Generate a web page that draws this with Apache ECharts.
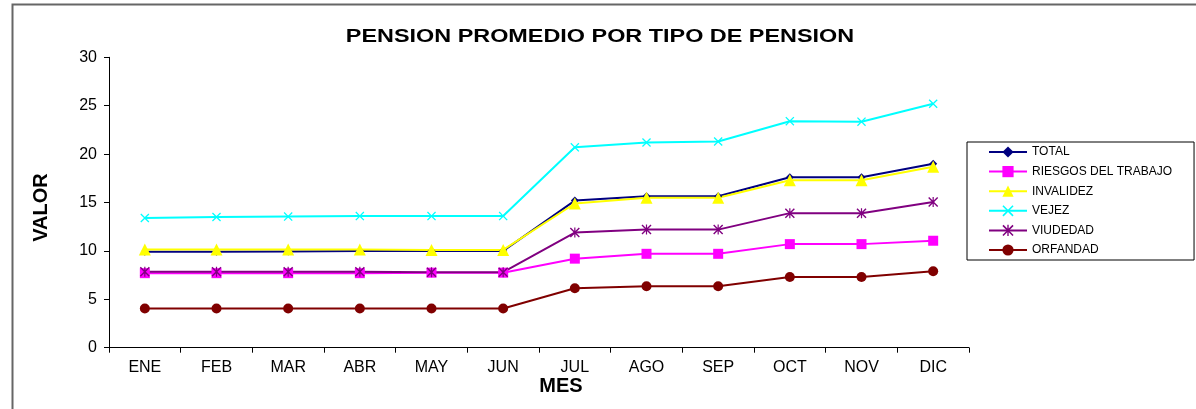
<!DOCTYPE html>
<html lang="es">
<head>
  <meta charset="utf-8">
</head>
<body style="height: 100%; margin: 0">
  <div id="container" style="width: 1196px; height: 409px"></div>
  <script type="text/javascript" src="https://fastly.jsdelivr.net/npm/echarts@6/dist/echarts.min.js"></script>
  <script type="text/javascript">
    const months = ['ENE', 'FEB', 'MAR', 'ABR', 'MAY', 'JUN', 'JUL', 'AGO', 'SEP', 'OCT', 'NOV', 'DIC'];
    const total = [9.9, 9.9, 9.95, 10.0, 10.0, 10.0, 15.2, 15.65, 15.65, 17.6, 17.6, 19.0];
    const riesgos = [7.7, 7.7, 7.7, 7.7, 7.75, 7.75, 9.2, 9.7, 9.7, 10.7, 10.7, 11.05];
    const invalidez = [10.15, 10.15, 10.15, 10.15, 10.1, 10.1, 14.9, 15.5, 15.5, 17.3, 17.3, 18.7];
    const vejez = [13.4, 13.5, 13.55, 13.6, 13.6, 13.6, 20.7, 21.2, 21.3, 23.4, 23.35, 25.2];
    const viudedad = [7.85, 7.85, 7.85, 7.85, 7.8, 7.8, 11.9, 12.2, 12.2, 13.9, 13.9, 15.05];
    const orfandad = [4.05, 4.05, 4.05, 4.05, 4.05, 4.05, 6.15, 6.35, 6.35, 7.3, 7.3, 7.9];
    const yTicks = [0, 30, 5]; // min, max, interval

    var dom = document.getElementById('container');
    var myChart = echarts.init(dom, null, { renderer: 'canvas' });

    const xPath = 'path://M0,1L1,0L5,4L9,0L10,1L6,5L10,9L9,10L5,6L1,10L0,9L4,5Z';
    const starPath = 'path://M0,1L1,0L5,4L9,0L10,1L6,5L10,9L9,10L5,6L1,10L0,9L4,5Z M4.4,0L5.6,0L5.6,10L4.4,10Z';

    function line(name, data, color, symbol, size) {
      return {
        name: name,
        type: 'line',
        data: data,
        symbol: symbol,
        symbolSize: size,
        lineStyle: { color: color, width: 2 },
        itemStyle: { color: color },
        emphasis: { disabled: true }
      };
    }

    var option = {
      animation: false,
      graphic: [{
        type: 'rect',
        shape: { x: 12.5, y: 4.5, width: 1300, height: 500 },
        style: { fill: 'none', stroke: '#666', lineWidth: 2 },
        silent: true
      }, {
        // title, stretched horizontally like the original
        type: 'text',
        x: 600,
        y: 37,
        originX: 0,
        scaleX: 1.3,
        style: {
          text: 'PENSION PROMEDIO POR TIPO DE PENSION',
          x: 0,
          y: 0,
          align: 'center',
          verticalAlign: 'middle',
          font: 'bold 18px "Liberation Sans"',
          fill: '#000'
        },
        silent: true
      }],
      legend: {
        orient: 'vertical',
        left: 967,
        top: 142,
        padding: [4, 22, 4, 21],
        itemWidth: 38,
        itemHeight: 14,
        itemGap: 7.6,
        borderColor: '#000',
        borderWidth: 1,
        textStyle: { fontFamily: 'Liberation Sans', fontSize: 12, color: '#000' }
      },
      grid: { left: 109, right: 227, top: 57.3, bottom: 61.3 },
      xAxis: {
        type: 'category',
        data: months,
        name: 'MES',
        nameLocation: 'middle',
        nameGap: 29,
        nameMoveOverlap: false,
        nameTextStyle: { fontFamily: 'Liberation Sans', fontSize: 20, fontWeight: 'bold', color: '#000', padding: [0, 0, 0, 44] },
        axisLine: { lineStyle: { color: '#000', width: 1 } },
        axisTick: { show: true, length: 5, lineStyle: { color: '#000' } },
        axisLabel: { margin: 12, fontFamily: 'Liberation Sans', fontSize: 16, color: '#000' },
        splitLine: { show: false }
      },
      yAxis: {
        type: 'value',
        min: yTicks[0],
        max: yTicks[1],
        interval: yTicks[2],
        name: 'VALOR',
        nameLocation: 'middle',
        nameGap: 58,
        nameMoveOverlap: false,
        nameTextStyle: { fontFamily: 'Liberation Sans', fontSize: 20, fontWeight: 'bold', color: '#000', padding: [0, 10, 0, 0] },
        axisLine: { show: true, lineStyle: { color: '#000', width: 1 } },
        axisTick: { show: true, length: 5, lineStyle: { color: '#000' } },
        axisLabel: { margin: 12, fontFamily: 'Liberation Sans', fontSize: 16, color: '#000' },
        splitLine: { show: false }
      },
      series: [
        line('TOTAL', total, '#000080', 'diamond', 8),
        line('RIESGOS DEL TRABAJO', riesgos, '#FF00FF', 'rect', 10),
        line('INVALIDEZ', invalidez, '#FFFF00', 'triangle', 12),
        line('VEJEZ', vejez, '#00FFFF', xPath, 9),
        line('VIUDEDAD', viudedad, '#800080', starPath, 10),
        line('ORFANDAD', orfandad, '#800000', 'circle', 10)
      ]
    };

    myChart.setOption(option);
    window.addEventListener('resize', myChart.resize);
  </script>
</body>
</html>
